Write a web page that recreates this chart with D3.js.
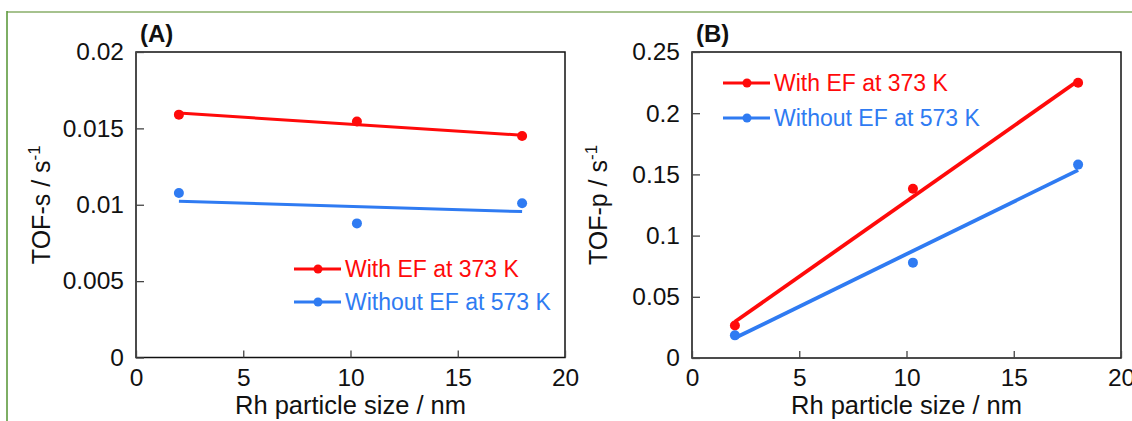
<!DOCTYPE html>
<html>
<head>
<meta charset="utf-8">
<script src="https://cdn.jsdelivr.net/npm/d3@7"></script>
<style>
  body { margin: 0; background: #fff; }
  text { font-family: "Liberation Sans", Arial, sans-serif; }
</style>
</head>
<body>
<div id="chart"></div>
<script>
// particle sizes (nm)
const sizes = [2, 10.3, 18];

// panel A: TOF-s
const tofsWithEF = [0.0159, 0.01545, 0.0145];
const tofsWithoutEF = [0.01077, 0.00878, 0.0101];
// fitted trend lines (start at x=2, end at x=18)
const tofsFitWith = [0.0160, 0.01455];
const tofsFitWithout = [0.01023, 0.00955];

// panel B: TOF-p
const tofpWithEF = [0.0265, 0.1383, 0.2249];
const tofpWithoutEF = [0.0185, 0.0779, 0.158];
const tofpFitWith = [0.0296, 0.2265];
const tofpFitWithout = [0.0163, 0.1535];
const fitX = [2, 18];

const xTicks = [0, 5, 10, 15, 20];
const yTicksA = [0, 0.005, 0.01, 0.015, 0.02];
const yTicksB = [0, 0.05, 0.1, 0.15, 0.2, 0.25];

const seriesNames = ["With EF at 373 K", "Without EF at 573 K"];
const red = "#ff0a0a", blue = "#2f7bf2";

const W = 1132, H = 421;
const svg = d3.select("#chart").append("svg")
    .attr("width", W)
    .attr("height", H);

// outer frame
svg.append("line").attr("x1", 7).attr("x2", W).attr("y1", 12).attr("y2", 12)
    .attr("stroke", "#a6c28e").attr("stroke-width", 2);
svg.append("line").attr("x1", 7).attr("x2", 7).attr("y1", 11).attr("y2", H)
    .attr("stroke", "#5e9a3e").attr("stroke-width", 1.6);

function drawPanel(p) {
    let x = d3.scaleLinear().domain([0, 20]).range([p.left, p.right]);
    let y = d3.scaleLinear().domain([0, p.ymax]).range([p.bottom, p.top]);
    let g = svg.append("g");

    // box
    g.append("rect")
        .attr("x", p.left).attr("y", p.top)
        .attr("width", p.right - p.left).attr("height", p.bottom - p.top)
        .attr("fill", "none").attr("stroke", "#111").attr("stroke-width", 1.5);

    // axes (inward ticks)
    let xAxis = d3.axisBottom(x).tickValues(xTicks).tickSize(-7).tickPadding(12)
        .tickFormat(d3.format("d"));
    let yAxis = d3.axisLeft(y).tickValues(p.yTicks).tickSize(-8).tickPadding(12)
        .tickFormat(d => d === 0 ? "0" : String(+d.toFixed(3)));

    let gx = g.append("g").attr("transform", "translate(0," + p.bottom + ")").call(xAxis);
    let gy = g.append("g").attr("transform", "translate(" + p.left + ",0)").call(yAxis);
    [gx, gy].forEach(a => {
        a.select(".domain").remove();
        a.selectAll(".tick line").attr("stroke", "#444").attr("stroke-width", 1.3);
        a.selectAll("text").attr("font-size", 24.5).attr("fill", "#111")
            .attr("font-family", "'Liberation Sans', Arial, sans-serif");
    });
    gx.selectAll("text").attr("dy", "0.71em").attr("y", 11);

    // axis titles
    g.append("text")
        .attr("x", (p.left + p.right) / 2).attr("y", 414)
        .attr("text-anchor", "middle").attr("font-size", 25.5).attr("fill", "#111")
        .text("Rh particle size / nm");
    let yt = g.append("text")
        .attr("transform", "translate(" + p.ytitleX + "," + (p.top + p.bottom) / 2 + ") rotate(-90)")
        .attr("text-anchor", "middle").attr("font-size", 25).attr("fill", "#111");
    yt.append("tspan").text(p.ytitle + " / s");
    yt.append("tspan").attr("dy", -10).attr("font-size", 17).text("-1");

    // panel label
    g.append("text")
        .attr("x", p.left + 4).attr("y", 42)
        .attr("font-size", 24).attr("font-weight", "bold").attr("fill", "#111")
        .text(p.label);

    // series
    let line = d3.line().x((d, i) => x(fitX[i])).y(d => y(d));
    p.series.forEach(s => {
        g.append("path").datum(s.fit)
            .attr("d", line)
            .attr("fill", "none").attr("stroke", s.color).attr("stroke-width", p.lw);
        g.selectAll(null).data(s.values).enter().append("circle")
            .attr("cx", (d, i) => x(sizes[i]))
            .attr("cy", d => y(d))
            .attr("r", 5)
            .attr("fill", s.color);
    });

    // legend
    p.series.forEach((s, i) => {
        let ly = p.legend.y + i * p.legend.dy;
        g.append("line")
            .attr("x1", p.legend.x).attr("x2", p.legend.x + 47)
            .attr("y1", ly).attr("y2", ly)
            .attr("stroke", s.color).attr("stroke-width", 3);
        g.append("circle").attr("cx", p.legend.x + 24).attr("cy", ly).attr("r", 4.5)
            .attr("fill", s.color);
        g.append("text")
            .attr("x", p.legend.x + 51).attr("y", ly + 8)
            .attr("font-size", 23).attr("fill", s.color)
            .text(seriesNames[i]);
    });
}

drawPanel({
    left: 136, right: 565, top: 52, bottom: 357.5, ymax: 0.02,
    yTicks: yTicksA, ytitle: "TOF-s", ytitleX: 50, label: "(A)", lw: 3,
    legend: {x: 294, y: 269, dy: 33},
    series: [
        {values: tofsWithEF, fit: tofsFitWith, color: red},
        {values: tofsWithoutEF, fit: tofsFitWithout, color: blue}
    ]
});

drawPanel({
    left: 692, right: 1121, top: 52, bottom: 358, ymax: 0.25,
    yTicks: yTicksB, ytitle: "TOF-p", ytitleX: 607, label: "(B)", lw: 3.8,
    legend: {x: 723, y: 83, dy: 35},
    series: [
        {values: tofpWithEF, fit: tofpFitWith, color: red},
        {values: tofpWithoutEF, fit: tofpFitWithout, color: blue}
    ]
});
</script>
</body>
</html>
